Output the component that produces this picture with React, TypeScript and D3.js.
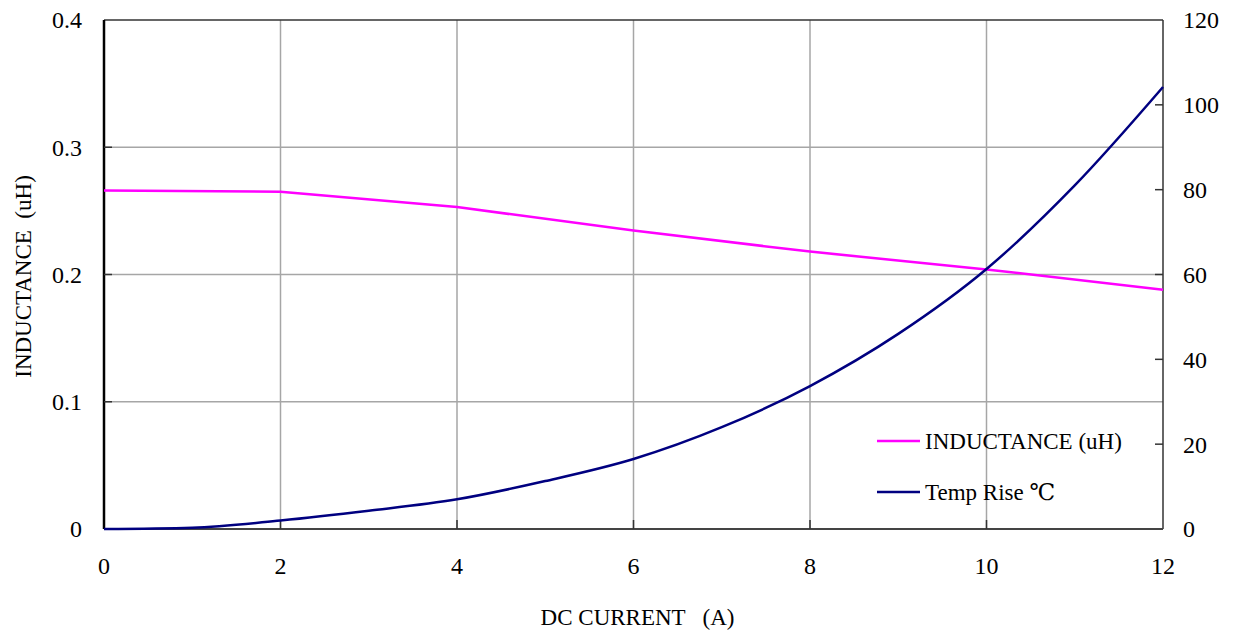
import * as d3 from 'd3';

// values
const current = [0, 2, 4, 6, 8, 10, 12];
const inductance = [0.266, 0.265, 0.253, 0.2345, 0.218, 0.204, 0.188];

const tempCurrent = [0, 1, 2, 3, 4, 5, 6, 7, 8, 9, 10, 11, 12];
const tempRise = [0, 0.3, 2, 4.3, 7.0, 11.3, 16.5, 24, 33.7, 46, 61.3, 81, 104.2];

const xTicks = [0, 2, 4, 6, 8, 10, 12];
const leftTicks = [0, 0.1, 0.2, 0.3, 0.4];
const rightTicks = [0, 20, 40, 60, 80, 100, 120];

const W = 1234;
const H = 637;
const margin = { top: 20, right: 71, bottom: 108, left: 104 };
const font = '"Liberation Serif", "DejaVu Serif", serif';

export default function App() {
  const x = d3.scaleLinear().domain([0, 12]).range([margin.left, W - margin.right]);
  const yL = d3.scaleLinear().domain([0, 0.4]).range([H - margin.bottom, margin.top]);
  const yR = d3.scaleLinear().domain([0, 120]).range([H - margin.bottom, margin.top]);

  const x0 = x.range()[0];
  const x1 = x.range()[1];
  const y0 = yL.range()[0];
  const y1 = yL.range()[1];

  const indLine = d3
    .line<number>()
    .x((_, i) => x(current[i]))
    .y((d) => yL(d))(inductance);

  const tempLine = d3
    .line<number>()
    .x((_, i) => x(tempCurrent[i]))
    .y((d) => yR(d))
    .curve(d3.curveMonotoneX)(tempRise);

  const fmtL = (v: number) => (v === 0 ? '0' : d3.format('.1f')(v));

  return (
    <svg width={W} height={H} style={{ position: 'absolute', left: 0, top: 0, background: '#fff' }} fontFamily={font}>
      {/* grid */}
      <g stroke="#a6a6a6" strokeWidth={1.5}>
        {xTicks.slice(1, -1).map((t) => (
          <line key={'gx' + t} x1={x(t)} x2={x(t)} y1={y0} y2={y1} />
        ))}
        {leftTicks.slice(1, -1).map((t) => (
          <line key={'gy' + t} x1={x0} x2={x1} y1={yL(t)} y2={yL(t)} />
        ))}
      </g>

      {/* frame */}
      <line x1={x0} x2={x1} y1={y1} y2={y1} stroke="#333" strokeWidth={1.5} />
      <line x1={x1} x2={x1} y1={y1} y2={y0} stroke="#333" strokeWidth={1.5} />
      <line x1={x0} x2={x1} y1={y0} y2={y0} stroke="#444" strokeWidth={2} />
      <line x1={x0} x2={x0} y1={y1} y2={y0} stroke="#000" strokeWidth={2.5} />

      {/* inward ticks */}
      <g stroke="#333" strokeWidth={1.5}>
        {xTicks.slice(1, -1).map((t) => (
          <line key={'tx' + t} x1={x(t)} x2={x(t)} y1={y0} y2={y0 - 9} />
        ))}
        {leftTicks.slice(1, -1).map((t) => (
          <line key={'tl' + t} x1={x0} x2={x0 + 8} y1={yL(t)} y2={yL(t)} />
        ))}
        {rightTicks.slice(1, -1).map((t) => (
          <line key={'tr' + t} x1={x1} x2={x1 - 8} y1={yR(t)} y2={yR(t)} />
        ))}
      </g>

      {/* series */}
      <path d={indLine ?? ''} fill="none" stroke="#ff00ff" strokeWidth={2.5} strokeLinejoin="round" />
      <path d={tempLine ?? ''} fill="none" stroke="#000080" strokeWidth={2.5} />

      {/* tick labels */}
      <g fontSize={24} fill="#000">
        {leftTicks.map((t) => (
          <text key={'ll' + t} x={x0 - 22} y={yL(t)} dy="0.35em" textAnchor="end">
            {fmtL(t)}
          </text>
        ))}
        {rightTicks.map((t) => (
          <text key={'lr' + t} x={x1 + 20} y={yR(t)} dy="0.35em" textAnchor="start">
            {t}
          </text>
        ))}
        {xTicks.map((t) => (
          <text key={'lx' + t} x={x(t)} y={y0 + 37} dy="0.35em" textAnchor="middle">
            {t}
          </text>
        ))}
      </g>

      {/* axis titles */}
      <text x={(x0 + x1) / 2 + 4} y={625} fontSize={23} textAnchor="middle" style={{ whiteSpace: 'pre' }}>
        {'DC CURRENT   (A)'}
      </text>
      <text
        transform={`translate(31, ${(y0 + y1) / 2 + 2}) rotate(-90)`}
        fontSize={23}
        textAnchor="middle"
        style={{ whiteSpace: 'pre' }}
      >
        {'INDUCTANCE  (uH)'}
      </text>

      {/* legend */}
      <g fontSize={23}>
        <line x1={877} x2={920} y1={441} y2={441} stroke="#ff00ff" strokeWidth={2.5} />
        <text x={925} y={441} dy="0.35em">
          INDUCTANCE (uH)
        </text>
        <line x1={877} x2={920} y1={492} y2={492} stroke="#000080" strokeWidth={2.5} />
        <text x={925} y={492} dy="0.35em">
          Temp Rise ℃
        </text>
      </g>
    </svg>
  );
}
